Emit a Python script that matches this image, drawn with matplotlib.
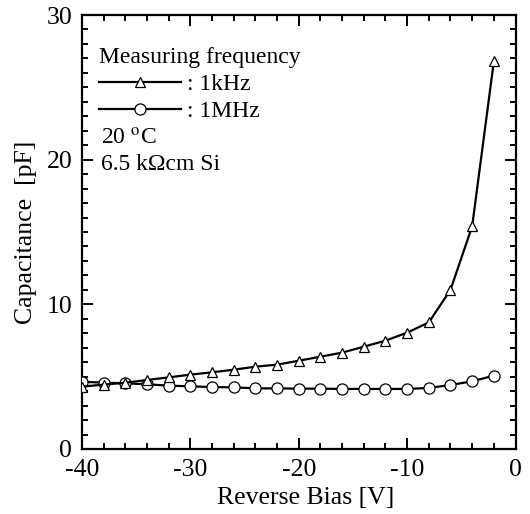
import matplotlib
matplotlib.use("Agg")
import matplotlib.pyplot as plt
from matplotlib.ticker import MultipleLocator

plt.rcParams['font.family'] = ['Liberation Serif', 'DejaVu Serif']
plt.rcParams['mathtext.fontset'] = 'stix'
plt.rcParams['axes.unicode_minus'] = False

bias = [-40, -38, -36, -34, -32, -30, -28, -26, -24, -22,
        -20, -18, -16, -14, -12, -10, -8, -6, -4, -2]
cap_1khz = [4.31, 4.45, 4.58, 4.77, 4.95, 5.14, 5.30, 5.48, 5.69, 5.83,
            6.10, 6.38, 6.66, 7.07, 7.49, 8.04, 8.75, 11.0, 15.4, 26.8]
cap_1mhz = [4.65, 4.58, 4.54, 4.47, 4.38, 4.33, 4.28, 4.26, 4.19, 4.19,
            4.17, 4.17, 4.15, 4.15, 4.15, 4.15, 4.22, 4.42, 4.68, 5.07]

fig = plt.figure(figsize=(5.30, 5.14), dpi=100)
ax = fig.add_axes([0.1547, 0.1265, 0.818, 0.8443])

ax.plot(bias, cap_1mhz, color='black', lw=1.6, marker='o', ms=8,
        mfc='white', mec='black', mew=0.9, label=': 1MHz', zorder=3)
ax.plot(bias, cap_1khz, color='black', lw=1.6, marker='^', ms=7,
        mfc='white', mec='black', mew=0.9, label=': 1kHz', zorder=4)

ax.set_xlim(-40, 0)
ax.set_ylim(0, 30)
ax.xaxis.set_major_locator(MultipleLocator(10))
ax.xaxis.set_minor_locator(MultipleLocator(2))
ax.yaxis.set_major_locator(MultipleLocator(10))
ax.yaxis.set_minor_locator(MultipleLocator(1))
ax.tick_params(which='both', direction='in', top=True, right=True, width=1.4,
               labelsize=18.5, colors='black')
ax.tick_params(which='major', length=8)
ax.tick_params(which='minor', length=4.5)
ax.tick_params(axis='x', which='major', pad=7)
ax.tick_params(axis='y', which='major', pad=7)
for sp in ax.spines.values():
    sp.set_linewidth(1.6)

ax.set_xlabel('Reverse Bias [V]', fontsize=18.5)
ax.xaxis.set_label_coords(0.515, -0.088)
ax.set_ylabel('Capacitance  [pF]', fontsize=18.5, labelpad=7)

handles, labels = ax.get_legend_handles_labels()
leg = ax.legend(handles[::-1], labels[::-1], title='Measuring frequency',
                loc='upper left', bbox_to_anchor=(0.0, 0.965), frameon=False,
                fontsize=17, title_fontsize=17, handlelength=3.5,
                handletextpad=0.25, borderaxespad=0.3, labelspacing=0.24,
                alignment='left')

ax.text(0.043, 0.700, '20 $^{\\mathrm{o}}$C', transform=ax.transAxes,
        fontsize=17, va='baseline')
ax.text(0.043, 0.643, '6.5 k\u03a9cm Si', transform=ax.transAxes,
        fontsize=17, va='baseline')

fig.savefig('out.png', dpi=100)
